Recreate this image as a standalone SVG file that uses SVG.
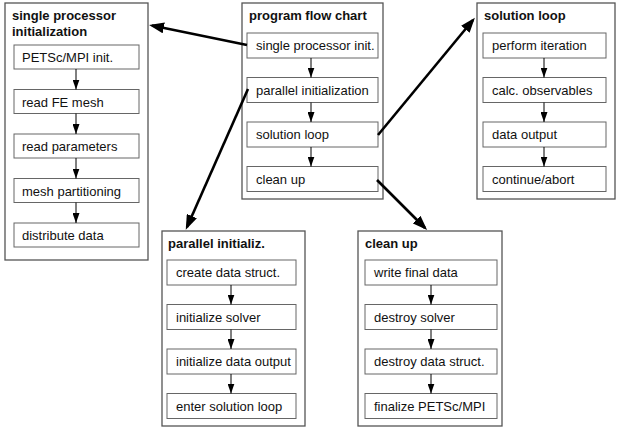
<svg xmlns="http://www.w3.org/2000/svg" width="627" height="431" viewBox="0 0 627 431">
<defs>
<style>
.panel{fill:#fff;stroke:#555;stroke-width:1.3}
.box{fill:#fff;stroke:#666;stroke-width:1}
.t{font-family:"Liberation Sans",Arial,sans-serif;font-size:13px;fill:#111}
.h{font-family:"Liberation Sans",Arial,sans-serif;font-size:13px;font-weight:bold;fill:#111}
.sa{stroke:#000;stroke-width:1;fill:none;marker-end:url(#sm)}
.ba{stroke:#000;stroke-width:2.6;fill:none;marker-end:url(#bm)}
</style>
<marker id="sm" markerUnits="userSpaceOnUse" markerWidth="10" markerHeight="7" refX="10" refY="3.5" orient="auto" viewBox="0 0 10 7">
<path d="M0,0 L10,3.5 L0,7 z" fill="#000"/>
</marker>
<marker id="bm" markerUnits="userSpaceOnUse" markerWidth="15" markerHeight="11" refX="12" refY="5.5" orient="auto" viewBox="0 0 15 11">
<path d="M0,0 L15,5.5 L0,11 z" fill="#000"/>
</marker>
</defs>
<rect width="627" height="431" fill="#fff"/>

<g id="panel-single">
<rect class="panel" x="5" y="3" width="143" height="257"/>
<text class="h" x="12" y="20">single processor</text>
<text class="h" x="12" y="36">initialization</text>
<rect class="box" x="14" y="45" width="125" height="24"/><text class="t" x="22" y="62">PETSc/MPI init.</text>
<rect class="box" x="14" y="89.5" width="125" height="24"/><text class="t" x="22" y="106.5">read FE mesh</text>
<rect class="box" x="14" y="134" width="125" height="24"/><text class="t" x="22" y="151">read parameters</text>
<rect class="box" x="14" y="178.5" width="125" height="24"/><text class="t" x="22" y="195.5">mesh partitioning</text>
<rect class="box" x="14" y="223" width="125" height="24"/><text class="t" x="22" y="240">distribute data</text>
</g>

<g id="panel-program">
<rect class="panel" x="242" y="3" width="141" height="196"/>
<text class="h" x="249" y="20">program flow chart</text>
<rect class="box" x="247" y="33" width="131" height="25"/><text class="t" x="256" y="50">single processor init.</text>
<rect class="box" x="247" y="77.5" width="131" height="25"/><text class="t" x="256" y="94.5">parallel initialization</text>
<rect class="box" x="247" y="122" width="131" height="25"/><text class="t" x="256" y="139">solution loop</text>
<rect class="box" x="247" y="166.5" width="131" height="25"/><text class="t" x="256" y="183.5">clean up</text>
</g>

<g id="panel-solution">
<rect class="panel" x="477" y="3" width="138" height="196"/>
<text class="h" x="484" y="20">solution loop</text>
<rect class="box" x="483" y="33" width="123" height="25"/><text class="t" x="492" y="50">perform iteration</text>
<rect class="box" x="483" y="77.5" width="123" height="25"/><text class="t" x="492" y="94.5">calc. observables</text>
<rect class="box" x="483" y="122" width="123" height="25"/><text class="t" x="492" y="139">data output</text>
<rect class="box" x="483" y="166.5" width="123" height="25"/><text class="t" x="492" y="183.5">continue/abort</text>
</g>

<g id="panel-parallel">
<rect class="panel" x="162" y="231" width="143" height="195"/>
<text class="h" x="168" y="248">parallel initializ.</text>
<rect class="box" x="167" y="260" width="129" height="25"/><text class="t" x="176" y="277">create data struct.</text>
<rect class="box" x="167" y="304.5" width="129" height="25"/><text class="t" x="176" y="321.5">initialize solver</text>
<rect class="box" x="167" y="349" width="129" height="25"/><text class="t" x="176" y="366">initialize data output</text>
<rect class="box" x="167" y="393.5" width="129" height="25"/><text class="t" x="176" y="410.5">enter solution loop</text>
</g>

<g id="panel-cleanup">
<rect class="panel" x="358" y="231" width="144" height="195"/>
<text class="h" x="365" y="248">clean up</text>
<rect class="box" x="365" y="260" width="132" height="25"/><text class="t" x="374" y="277">write final data</text>
<rect class="box" x="365" y="304.5" width="132" height="25"/><text class="t" x="374" y="321.5">destroy solver</text>
<rect class="box" x="365" y="349" width="132" height="25"/><text class="t" x="374" y="366">destroy data struct.</text>
<rect class="box" x="365" y="393.5" width="132" height="25"/><text class="t" x="374" y="410.5">finalize PETSc/MPI</text>
</g>

<g id="connectors">
<line class="sa" x1="76" y1="69" x2="76" y2="89.5"/>
<line class="sa" x1="76" y1="113.5" x2="76" y2="134"/>
<line class="sa" x1="76" y1="158" x2="76" y2="178.5"/>
<line class="sa" x1="76" y1="202.5" x2="76" y2="223"/>

<line class="sa" x1="311" y1="58" x2="311" y2="77.5"/>
<line class="sa" x1="311" y1="102.5" x2="311" y2="122"/>
<line class="sa" x1="311" y1="147" x2="311" y2="166.5"/>

<line class="sa" x1="544" y1="58" x2="544" y2="77.5"/>
<line class="sa" x1="544" y1="102.5" x2="544" y2="122"/>
<line class="sa" x1="544" y1="147" x2="544" y2="166.5"/>

<line class="sa" x1="231" y1="285" x2="231" y2="304.5"/>
<line class="sa" x1="231" y1="329.5" x2="231" y2="349"/>
<line class="sa" x1="231" y1="374" x2="231" y2="393.5"/>

<line class="sa" x1="431" y1="285" x2="431" y2="304.5"/>
<line class="sa" x1="431" y1="329.5" x2="431" y2="349"/>
<line class="sa" x1="431" y1="374" x2="431" y2="393.5"/>

<line class="ba" x1="247" y1="45" x2="152" y2="25.5"/>
<line class="ba" x1="248" y1="89" x2="187" y2="227"/>
<line class="ba" x1="378" y1="135" x2="473" y2="20"/>
<line class="ba" x1="377" y1="180" x2="425" y2="228"/>
</g>
</svg>
